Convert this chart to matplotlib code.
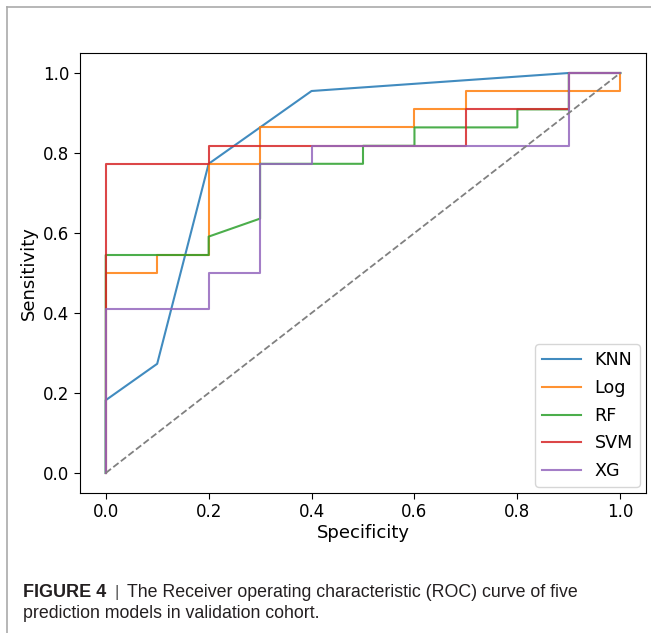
import matplotlib
matplotlib.use("Agg")
import matplotlib.pyplot as plt
from matplotlib.lines import Line2D

# ROC points (1 - specificity, sensitivity)
knn_x = [0.0, 0.0, 0.1, 0.2, 0.4, 0.9, 1.0]
knn_y = [0.0, 0.182, 0.273, 0.773, 0.955, 1.0, 1.0]

log_x = [0.0, 0.0, 0.1, 0.1, 0.2, 0.2, 0.3, 0.3, 0.6, 0.6, 0.7, 0.7, 1.0, 1.0]
log_y = [0.0, 0.5, 0.5, 0.545, 0.545, 0.773, 0.773, 0.864, 0.864, 0.909, 0.909, 0.955, 0.955, 1.0]

rf_x = [0.0, 0.0, 0.2, 0.2, 0.3, 0.3, 0.5, 0.5, 0.6, 0.6, 0.8, 0.8, 0.9, 0.9, 1.0]
rf_y = [0.0, 0.545, 0.545, 0.591, 0.636, 0.773, 0.773, 0.818, 0.818, 0.864, 0.864, 0.909, 0.909, 1.0, 1.0]

svm_x = [0.0, 0.0, 0.2, 0.2, 0.7, 0.7, 0.9, 0.9, 1.0]
svm_y = [0.0, 0.773, 0.773, 0.818, 0.818, 0.909, 0.909, 1.0, 1.0]

xg_x = [0.0, 0.0, 0.2, 0.2, 0.3, 0.3, 0.4, 0.4, 0.9, 0.9, 1.0]
xg_y = [0.0, 0.409, 0.409, 0.5, 0.5, 0.773, 0.773, 0.818, 0.818, 1.0, 1.0]

models = ["KNN", "Log", "RF", "SVM", "XG"]
curves = [(knn_x, knn_y), (log_x, log_y), (rf_x, rf_y), (svm_x, svm_y), (xg_x, xg_y)]

fig = plt.figure(figsize=(6.51, 6.33), dpi=100)
ax = fig.add_axes([80 / 651, 1 - 493 / 633, (646 - 80) / 651, (493 - 53) / 633])

for name, (x, y) in zip(models, curves):
    ax.plot(x, y, label=name, lw=1.5, alpha=0.85)
ax.plot([0, 1], [0, 1], linestyle="--", color="grey", lw=1.3)

ax.set_xticks([0.0, 0.2, 0.4, 0.6, 0.8, 1.0])
ax.set_yticks([0.0, 0.2, 0.4, 0.6, 0.8, 1.0])
ax.tick_params(labelsize=12, length=4)
ax.set_xlabel("Specificity", fontsize=13, labelpad=2)
ax.set_ylabel("Sensitivity", fontsize=13, labelpad=4)
ax.legend(loc="lower right", fontsize=12.6, handlelength=2.2, labelspacing=0.55,
          handletextpad=0.8, borderpad=0.4, borderaxespad=0.35)

# page frame around the figure
fig.add_artist(Line2D([7 / 651, 7 / 651], [0, 1 - 7 / 633], color="#aaaaaa", lw=1.2))
fig.add_artist(Line2D([7 / 651, 1], [1 - 7 / 633, 1 - 7 / 633], color="#aaaaaa", lw=1.2))

# caption
cap = "#231f20"
fig.text(23 / 651, 1 - 597 / 633, "FIGURE 4", fontsize=13, fontweight="bold",
         family="Liberation Sans", va="baseline", color=cap)
fig.text(115 / 651, 1 - 597 / 633, "|", fontsize=12.5, family="Liberation Sans",
         va="baseline", color="#555555")
fig.text(127 / 651, 1 - 597 / 633, "The Receiver operating characteristic (ROC) curve of five",
         fontsize=12.8, family="Liberation Sans", va="baseline", color=cap)
fig.text(23 / 651, 1 - 618 / 633, "prediction models in validation cohort.",
         fontsize=12.8, family="Liberation Sans", va="baseline", color=cap)

fig.savefig("out.png", dpi=100)
